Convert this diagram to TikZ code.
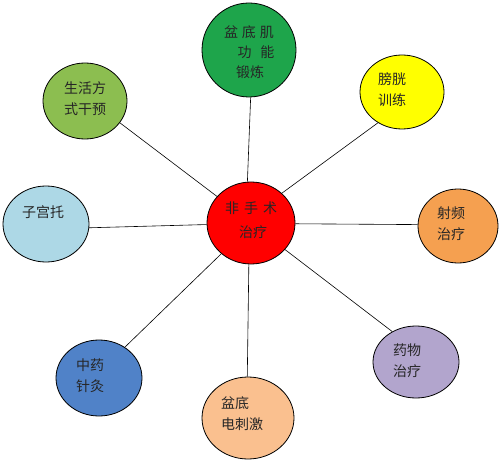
\documentclass[tikz,border=0pt]{standalone}
\usepackage{fontspec}
\newfontfamily\cjk{Noto Sans CJK SC}
\usetikzlibrary{shapes.geometric}
\definecolor{cgreen}{RGB}{30,165,75}
\definecolor{clgreen}{RGB}{140,190,80}
\definecolor{cyellow}{RGB}{255,255,0}
\definecolor{clblue}{RGB}{173,216,230}
\definecolor{corange}{RGB}{245,160,80}
\definecolor{cblue}{RGB}{80,130,200}
\definecolor{cpeach}{RGB}{250,192,143}
\definecolor{clav}{RGB}{178,165,205}
\definecolor{cred}{RGB}{255,0,0}
\tikzset{
  bubble/.style={ellipse, draw=black, line width=0.8pt, inner sep=0pt},
  lbl/.style={font=\cjk\fontsize{14}{21}\selectfont, text=black!85, inner sep=0pt, anchor=center, align=left},
  link/.style={draw=black, line width=0.6pt}
}
\begin{document}
\begin{tikzpicture}[x=1pt,y=-1pt]
\useasboundingbox (0,0) rectangle (502,462);
\fill[white] (0,0) rectangle (502,462);
% bubbles
\node[bubble, fill=cred,    minimum width=88pt, minimum height=82pt] (c)  at (251,223) {};
\node[bubble, fill=cgreen,  minimum width=94pt, minimum height=94pt] (g)  at (249,50)  {};
\node[bubble, fill=clgreen, minimum width=84pt, minimum height=76pt] (lg) at (85,101)  {};
\node[bubble, fill=cyellow, minimum width=84pt, minimum height=74pt] (y)  at (402,92)  {};
\node[bubble, fill=clblue,  minimum width=86pt, minimum height=76pt] (lb) at (46,224)  {};
\node[bubble, fill=corange, minimum width=80pt, minimum height=74pt] (o)  at (458,226) {};
\node[bubble, fill=cblue,   minimum width=86pt, minimum height=76pt] (b)  at (99,378)  {};
\node[bubble, fill=cpeach,  minimum width=92pt, minimum height=82pt] (p)  at (248,418) {};
\node[bubble, fill=clav,    minimum width=86pt, minimum height=72pt] (l)  at (416,362) {};
% connectors
\draw[link] (c.95)  -- (g.272);
\draw[link] (c.142) -- (lg.-32);
\draw[link] (c.44)  -- (y.232);
\draw[link] (c.182) -- (lb.-5);
\draw[link] (c.-1)  -- (o.178);
\draw[link] (c.-134) -- (b.50);
\draw[link] (c.-93) -- (p.91);
\draw[link] (c.-38) -- (l.128);
% labels
\node[lbl] (tc1) at (251,208) {非\hspace{5pt}手\hspace{5pt}术};
\node[lbl] (tc2) at (253,232) {治疗};
\node[lbl] (tg1) at (249,32) {盆\hspace{4pt}底\hspace{4pt}肌};
\node[lbl] (tg2) at (256,52) {功\hspace{9pt}能};
\node[lbl] (tg3) at (250,72) {锻炼};
\node[lbl] (tlg) at (85,99) {生活方\\式干预};
\node[lbl] (ty)  at (392,90) {膀胱\\训练};
\node[lbl] (tlb) at (43,212) {子宫托};
\node[lbl] (to)  at (451,224) {射频\\治疗};
\node[lbl] (tb)  at (90,376) {中药\\针灸};
\node[lbl] (tp)  at (242,414) {盆底\\电刺激};
\node[lbl] (tl)  at (407,361) {药物\\治疗};
\end{tikzpicture}
\end{document}
